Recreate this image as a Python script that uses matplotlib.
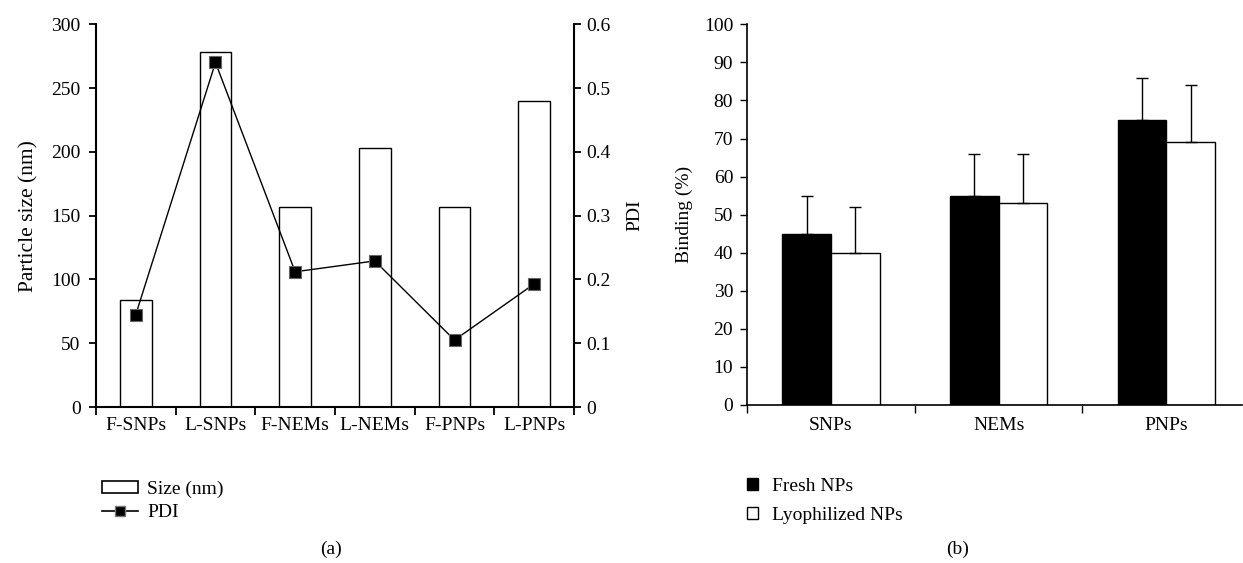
import numpy as np
import matplotlib
matplotlib.use("Agg")
import matplotlib.pyplot as plt
from matplotlib.patches import Patch
from matplotlib.lines import Line2D

# ---- datos panel (a) ----
muestras = ['F-SNPs', 'L-SNPs', 'F-NEMs', 'L-NEMs', 'F-PNPs', 'L-PNPs']
tamano = [84, 278, 157, 203, 157, 240]
pdi = [0.145, 0.54, 0.212, 0.229, 0.105, 0.193]

# ---- datos panel (b) ----
grupos = ['SNPs', 'NEMs', 'PNPs']
fresh = [45, 55, 75]
fresh_err = [10, 11, 11]
lyoph = [40, 53, 69]
lyoph_err = [12, 13, 15]

plt.rcParams['font.family'] = ['Liberation Serif', 'DejaVu Serif']
plt.rcParams['font.size'] = 14

fig = plt.figure(figsize=(12.43, 5.63), dpi=100)

# ==========================================
# (a) tamaño de partícula + PDI
# ==========================================
ax1 = fig.add_axes([0.0772, 0.277, 0.3846, 0.680])
x = np.arange(len(muestras)) + 0.5
ax1.bar(x, tamano, width=0.4, color='white', edgecolor='black', linewidth=1.0, zorder=2)
ax1.set_xlim(0, len(muestras))
ax1.set_ylim(0, 300)
ax1.set_yticks(range(0, 301, 50))
ax1.set_xticks(np.arange(len(muestras) + 1))
ax1.set_xticklabels([])
ax1.set_xticks(x, minor=True)
ax1.set_xticklabels(muestras, minor=True)
ax1.tick_params(axis='x', which='minor', length=0, pad=7)
ax1.tick_params(axis='x', which='major', length=6, width=1.3, direction='out')
ax1.tick_params(axis='y', length=5, width=1.3, direction='out', pad=6)
ax1.set_ylabel('Particle size (nm)', labelpad=9, fontsize=15.5)
for s in ['top', 'right']:
    ax1.spines[s].set_visible(False)
for s in ['left', 'bottom']:
    ax1.spines[s].set_linewidth(1.5)

ax2 = ax1.twinx()
ax2.plot(x, pdi, color='black', linewidth=1.0, marker='s', markersize=8,
         markerfacecolor='black', markeredgecolor='#666666', markeredgewidth=0.8, zorder=3)
ax2.set_ylim(0, 0.6)
ax2.set_yticks([0, 0.1, 0.2, 0.3, 0.4, 0.5, 0.6])
ax2.set_yticklabels(['0', '0.1', '0.2', '0.3', '0.4', '0.5', '0.6'])
ax2.tick_params(axis='y', length=5, width=1.3, direction='out')
ax2.set_ylabel('PDI', labelpad=12)
for s in ['top', 'left', 'bottom']:
    ax2.spines[s].set_visible(False)
ax2.spines['right'].set_linewidth(1.5)

h_a = [Patch(facecolor='white', edgecolor='black', linewidth=1.2),
       Line2D([], [], color='black', linewidth=1.2, marker='s', markersize=7,
              markerfacecolor='black', markeredgecolor='#777777')]
fig.legend(h_a, ['Size (nm)', 'PDI'], loc='upper left', bbox_to_anchor=(0.074, 0.1635),
           frameon=False, handlelength=1.85, handleheight=0.55, labelspacing=0.33,
           handletextpad=0.5, borderpad=0)
fig.text(0.266, 0.008, '(a)', ha='center', va='bottom')

# ==========================================
# (b) binding
# ==========================================
ax3 = fig.add_axes([0.601, 0.2807, 0.398, 0.676])
xg = np.arange(len(grupos))
w = 0.29
ax3.bar(xg + 0.5 - w / 2, fresh, width=w, color='black', edgecolor='black', linewidth=1.0,
        yerr=[np.zeros(3), fresh_err], capsize=4,
        error_kw=dict(elinewidth=1.0, capthick=1.0, ecolor='black'))
ax3.bar(xg + 0.5 + w / 2, lyoph, width=w, color='white', edgecolor='black', linewidth=1.0,
        yerr=[np.zeros(3), lyoph_err], capsize=4,
        error_kw=dict(elinewidth=1.0, capthick=1.0, ecolor='black'))
ax3.set_xlim(0, 2.95)
ax3.set_ylim(0, 100)
ax3.set_yticks(range(0, 101, 10))
ax3.set_xticks(xg)
ax3.set_xticklabels([])
ax3.set_xticks(xg + 0.5, minor=True)
ax3.set_xticklabels(grupos, minor=True)
ax3.tick_params(axis='x', which='minor', length=0, pad=9)
ax3.tick_params(axis='x', which='major', length=6, width=1.0, direction='out')
ax3.tick_params(axis='y', length=5, width=1.0, direction='out', pad=5)
ax3.set_ylabel('Binding (%)', labelpad=8)
for s in ['top', 'right']:
    ax3.spines[s].set_visible(False)
for s in ['left', 'bottom']:
    ax3.spines[s].set_linewidth(1.2)

h_b = [Patch(facecolor='black', edgecolor='black'),
       Patch(facecolor='white', edgecolor='black')]
fig.legend(h_b, ['Fresh NPs', 'Lyophilized NPs'], loc='upper left', bbox_to_anchor=(0.5935, 0.168),
           frameon=False, handlelength=0.55, handleheight=0.55, labelspacing=0.6,
           handletextpad=0.7, borderpad=0)
fig.text(0.770, 0.008, '(b)', ha='center', va='bottom')

fig.savefig('out.png', dpi=100)
